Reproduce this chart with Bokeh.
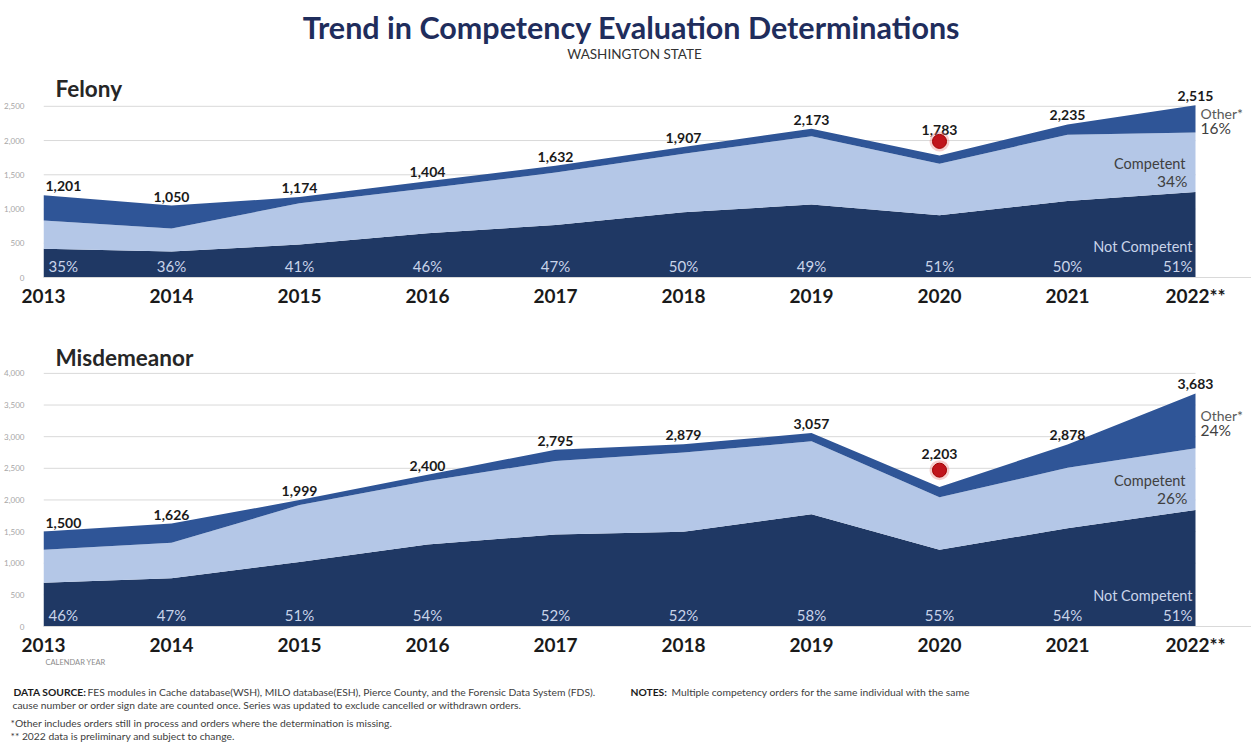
from bokeh.plotting import figure
from bokeh.layouts import column
from bokeh.models import ColumnDataSource, FixedTicker, NumeralTickFormatter, Range1d
from bokeh.core.properties import value
from bokeh.embed import file_html
from bokeh.resources import INLINE

# ---------------- data ----------------
years = [2013, 2014, 2015, 2016, 2017, 2018, 2019, 2020, 2021, 2022]
year_labels = ["2013", "2014", "2015", "2016", "2017", "2018", "2019", "2020", "2021", "2022**"]

fel_total = [1201, 1050, 1174, 1404, 1632, 1907, 2173, 1783, 2235, 2515]
fel_not_competent = [420, 378, 481, 646, 767, 954, 1065, 909, 1118, 1250]
fel_competent = [411, 336, 603, 658, 765, 853, 998, 754, 967, 868]
fel_other = [370, 336, 90, 100, 100, 100, 110, 120, 150, 397]
fel_nc_pct = ["35%", "36%", "41%", "46%", "47%", "50%", "49%", "51%", "50%", "51%"]
fel_comp_pct_last = "34%"
fel_other_pct_last = "16%"

mis_total = [1500, 1626, 1999, 2400, 2795, 2879, 3057, 2203, 2878, 3683]
mis_not_competent = [690, 764, 1019, 1296, 1453, 1497, 1773, 1212, 1554, 1843]
mis_competent = [523, 559, 900, 1004, 1162, 1252, 1154, 831, 954, 976]
mis_other = [287, 303, 80, 100, 180, 130, 130, 160, 370, 864]
mis_nc_pct = ["46%", "47%", "51%", "54%", "52%", "52%", "58%", "55%", "54%", "51%"]
mis_comp_pct_last = "26%"
mis_other_pct_last = "24%"

fel_ticks = [0, 500, 1000, 1500, 2000, 2500]
mis_ticks = [0, 500, 1000, 1500, 2000, 2500, 3000, 3500, 4000]
flagged_year = 2020

# ---------------- style ----------------
FONT = "Lato"
W = 1251
LEFT = 43
PX_PER_YEAR = 128
NAVY = "#1F3864"
MID = "#2F5597"
LIGHT = "#B4C7E7"
PALE_TXT = "#C9D4EA"


def panel(name, total, nc, comp, oth, nc_pct, comp_pct, oth_pct, ticks,
          y_end, height, top, bottom, name_off, flag_label_off, dot_px):
    frame_h = height - top - bottom
    upp = y_end / frame_h  # data units per pixel
    p = figure(width=W, height=height, output_backend="svg", toolbar_location=None, tools="",
               x_range=Range1d(years[0], years[0] + (W - LEFT) / PX_PER_YEAR),
               y_range=Range1d(0, y_end),
               min_border_left=LEFT, min_border_right=0, min_border_top=top, min_border_bottom=bottom)
    p.outline_line_color = None
    p.grid.visible = False
    p.background_fill_color = "white"
    p.border_fill_color = "white"

    # axes
    p.yaxis.ticker = FixedTicker(ticks=ticks)
    p.yaxis.formatter = NumeralTickFormatter(format="0,0")
    p.yaxis.axis_line_color = None
    p.yaxis.major_tick_line_color = None
    p.yaxis.minor_tick_line_color = None
    p.yaxis.major_label_text_font = FONT
    p.yaxis.major_label_text_font_size = "8px"
    p.yaxis.major_label_text_color = "#A6A6A6"
    p.yaxis.major_label_standoff = 13

    p.xaxis.ticker = FixedTicker(ticks=years)
    p.xaxis.major_label_overrides = {y: l for y, l in zip(years, year_labels)}
    p.xaxis.axis_line_color = "#D9D9D9"
    p.xaxis.major_tick_line_color = None
    p.xaxis.minor_tick_line_color = None
    p.xaxis.major_label_text_font = FONT
    p.xaxis.major_label_text_font_size = "19px"
    p.xaxis.major_label_text_font_style = "bold"
    p.xaxis.major_label_text_color = "#1A1A1A"
    p.xaxis.major_label_standoff = 0

    # gridlines across the data span only
    p.segment(x0=years[0], x1=years[-1], y0=ticks, y1=ticks, line_color="#D9D9D9", line_width=1)

    n = len(years)
    src = ColumnDataSource(dict(
        year=years, nc=nc, comp=comp, oth=oth, total=total,
        total_lbl=[f"{t:,}" for t in total],
        pct=nc_pct,
        yoff=[flag_label_off if y == flagged_year else -4 for y in years],
        align=["left" if i == 0 else "center" for i in range(n)],
        xoff=[2 if i == 0 else 0 for i in range(n)],
        palign=["left" if i == 0 else ("right" if i == n - 1 else "center") for i in range(n)],
        pxoff=[5 if i == 0 else (-3 if i == n - 1 else 0) for i in range(n)],
        zero=[0] * n,
    ))
    p.varea_stack(["nc", "comp", "oth"], x="year", color=[NAVY, LIGHT, MID], source=src)

    # total labels
    p.text(x="year", y="total", text="total_lbl", source=src, y_offset="yoff", x_offset="xoff",
           text_align="align", text_baseline="bottom", text_font=value(FONT),
           text_font_style="bold", text_font_size="14px", text_color="#1A1A1A")

    # not-competent percentages along the bottom
    p.text(x="year", y="zero", text="pct", source=src, x_offset="pxoff", y_offset=-3,
           text_align="palign", text_baseline="bottom", text_font=value(FONT),
           text_font_size="15px", text_color=PALE_TXT)

    # flagged (red) marker above the flagged year
    fi = years.index(flagged_year)
    dot_y = total[fi] + dot_px * upp
    p.scatter(x=[years[fi]], y=[dot_y], size=20, fill_color="#E57373", fill_alpha=0.35, line_color=None)
    p.scatter(x=[years[fi]], y=[dot_y], size=14, fill_color="#C0141C", line_color="#A00000", line_width=1)

    # end-of-series labels
    last = n - 1
    comp_mid = nc[last] + comp[last] / 2
    oth_mid = nc[last] + comp[last] + oth[last] / 2
    p.text(x=[years[last]], y=[oth_mid], text=["Other*"], x_offset=5, y_offset=-5,
           text_align="left", text_baseline="middle", text_font=value(FONT),
           text_font_size="14px", text_color="#595959")
    p.text(x=[years[last]], y=[oth_mid], text=[oth_pct], x_offset=5, y_offset=9,
           text_align="left", text_baseline="middle", text_font=value(FONT),
           text_font_size="15.5px", text_color="#404040")
    p.text(x=[years[last]], y=[comp_mid], text=["Competent"], x_offset=-10, y_offset=1,
           text_align="right", text_baseline="middle", text_font=value(FONT),
           text_font_size="14.5px", text_color="#404040")
    p.text(x=[years[last]], y=[comp_mid], text=[comp_pct], x_offset=-8, y_offset=19,
           text_align="right", text_baseline="middle", text_font=value(FONT),
           text_font_size="15.5px", text_color="#404040")
    p.text(x=[years[last]], y=[0], text=["Not Competent"], x_offset=-3, y_offset=-23,
           text_align="right", text_baseline="bottom", text_font=value(FONT),
           text_font_size="14.5px", text_color=PALE_TXT)

    # panel name
    p.text(x=[years[0]], y=[y_end], text=[name], x_offset=12, y_offset=name_off,
           text_align="left", text_baseline="middle", text_font=value(FONT),
           text_font_style="bold", text_font_size="22.5px", text_color="#262626")
    return p


def blank(height):
    # frames of plots in a column are aligned, so this frame also starts at LEFT;
    # the x range maps data x directly to page pixels.
    f = figure(width=W, height=height, output_backend="svg", toolbar_location=None, tools="",
               x_range=Range1d(LEFT, W), y_range=Range1d(height, 0),
               x_axis_location=None, y_axis_location=None,
               min_border_left=LEFT, min_border_right=0, min_border_top=0, min_border_bottom=0)
    f.grid.visible = False
    f.outline_line_color = None
    return f


# ---------------- header ----------------
header = blank(70)
header.text(x=[631], y=[26], text=["Trend in Competency Evaluation Determinations"],
            text_align="center", text_baseline="middle", text_font=value(FONT),
            text_font_style="bold", text_font_size="30.5px", text_color="#1F2D5C", level="annotation")
header.text(x=[634], y=[53], text=["WASHINGTON STATE"],
            text_align="center", text_baseline="middle", text_font=value(FONT),
            text_font_size="13.5px", text_color="#333333", level="annotation")

# ---------------- panels ----------------
felony = panel("Felony", fel_total, fel_not_competent, fel_competent, fel_other,
               fel_nc_pct, fel_comp_pct_last, fel_other_pct_last, fel_ticks,
               y_end=2950, height=248, top=5, bottom=41, name_off=13, flag_label_off=-20, dot_px=14)
misd = panel("Misdemeanor", mis_total, mis_not_competent, mis_competent, mis_other,
             mis_nc_pct, mis_comp_pct_last, mis_other_pct_last, mis_ticks,
             y_end=4520, height=340, top=22, bottom=31, name_off=17, flag_label_off=-28, dot_px=17)

# ---------------- footer ----------------
footer = blank(93)
FOOT = dict(text_baseline="middle", text_align="left", text_font=value(FONT),
            text_font_size="10.3px", level="annotation")
footer.text(x=[45], y=[4], text=["CALENDAR YEAR"], text_color="#8C8C8C", level="annotation",
            text_baseline="middle", text_align="left", text_font=value(FONT), text_font_size="7.5px")
footer.text(x=[13], y=[33], text=["DATA SOURCE:"], text_color="#1A1A1A", text_font_style="bold", **FOOT)
footer.text(x=[87], y=[33], text=["FES modules in Cache database(WSH), MILO database(ESH), Pierce County, and the Forensic Data System (FDS)."],
            text_color="#404040", **FOOT)
footer.text(x=[630], y=[33], text=["NOTES:"], text_color="#1A1A1A", text_font_style="bold", **FOOT)
footer.text(x=[671], y=[33], text=["Multiple competency orders for the same individual with the same"],
            text_color="#404040", **FOOT)
footer.text(x=[12], y=[46], text=["cause number or order sign date are counted once. Series was updated to exclude cancelled or  withdrawn orders."],
            text_color="#404040", **FOOT)
footer.text(x=[10], y=[64], text=["*Other includes orders still in process and orders where the determination is missing."],
            text_color="#404040", **FOOT)
footer.text(x=[10], y=[77], text=["** 2022  data is preliminary and subject to change."],
            text_color="#404040", **FOOT)

layout = column(header, felony, misd, footer, spacing=0)
open("out.html", "w").write(file_html(layout, INLINE))
